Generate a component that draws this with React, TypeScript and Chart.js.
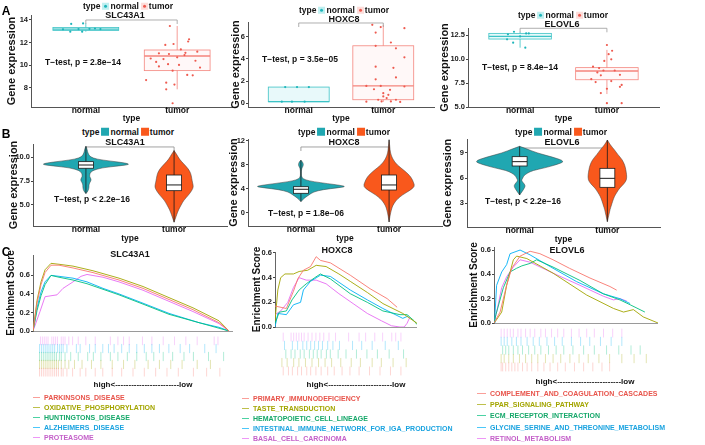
import React, { useEffect, useRef } from 'react';
import { Chart, registerables } from 'chart.js';

Chart.register(...registerables);

const FONT = '"Liberation Sans", Arial, Helvetica, sans-serif';
Chart.defaults.font.family = FONT;

// ================= categories & labels =================
const groups = ['normal', 'tumor'];
const genes = ['SLC43A1', 'HOXC8', 'ELOVL6'];
const pTestA = ['T\u2212test, p = 2.8e\u221214', 'T\u2212test, p = 3.5e\u221205', 'T\u2212test, p = 8.4e\u221214'];
const pTestB = ['T\u2212test, p < 2.2e\u221216', 'T\u2212test, p = 1.8e\u221206', 'T\u2212test, p < 2.2e\u221216'];

// ================= Panel A: boxplots [lowWhisker, Q1, median, Q3, highWhisker] =================
const boxA1 = [[12.97, 13.08, 13.2, 13.34, 13.7], [7.88, 9.53, 10.82, 11.35, 13.47]];
const boxA2 = [[0.12, 0.12, 0.12, 1.45, 1.45], [0.1, 0.3, 1.55, 5.2, 7.1]];
const boxA3 = [[11.18, 12.08, 12.35, 12.67, 12.84], [6.35, 7.84, 8.75, 9.1, 10.95]];

// jittered samples [offset from category, value]
const jitA1Normal = [[-0.16, 13.65], [-0.03, 13.7], [-0.17, 12.97], [-0.04, 12.97], [-0.08, 13.2], [0.04, 13.22], [0.1, 13.25], [0.16, 13.2], [-0.25, 13.18]];
const jitA1Tumor = [[-0.08, 13.47], [-0.13, 11.8], [-0.04, 11.88], [0.13, 12.3], [0.12, 12.1], [0.04, 11.4], [0.09, 11.1], [-0.2, 11.06], [-0.09, 11.0], [-0.29, 10.6], [-0.15, 10.55], [0.0, 10.7], [-0.23, 10.3], [-0.1, 10.1], [0.02, 10.03], [-0.2, 9.9], [-0.05, 9.53], [0.11, 9.15], [0.17, 9.12], [-0.34, 8.7], [-0.12, 8.47], [-0.03, 8.3], [-0.12, 7.88], [-0.05, 6.65], [0.08, 10.9], [0.2, 10.4], [0.22, 11.2], [0.25, 9.8]];
const jitA2Normal = [[-0.16, 1.45], [-0.02, 1.45], [0.12, 1.45], [-0.2, 0.12], [-0.08, 0.12], [0.07, 0.12]];
const jitA2Tumor = [[-0.13, 7.1], [-0.03, 6.9], [0.25, 6.8], [-0.09, 6.4], [0.09, 5.5], [-0.09, 5.2], [0.15, 4.97], [0.25, 4.15], [-0.09, 3.3], [0.12, 3.2], [0.15, 2.33], [-0.09, 2.15], [-0.2, 1.55], [-0.03, 1.55], [0.25, 1.5], [-0.11, 1.25], [0.08, 1.2], [0.0, 0.9], [-0.2, 0.12], [-0.06, 0.3], [-0.02, 0.15], [0.04, 0.45], [0.09, 0.15], [0.15, 0.3], [0.2, 0.1], [0.0, 0.6], [0.06, 0.75]];
const jitA3Normal = [[-0.07, 12.84], [-0.14, 12.57], [0.07, 12.67], [0.1, 12.67], [-0.15, 12.05], [-0.08, 11.7], [0.06, 11.18], [0.0, 12.35]];
const jitA3Tumor = [[0.0, 11.46], [0.06, 10.86], [0.02, 10.5], [0.05, 9.97], [-0.03, 9.8], [-0.16, 9.2], [-0.09, 9.05], [-0.04, 8.8], [0.09, 8.8], [-0.11, 8.6], [0.15, 8.35], [-0.07, 8.3], [-0.18, 7.9], [0.05, 7.7], [-0.13, 7.6], [0.17, 7.3], [0.15, 7.1], [0.0, 6.9], [-0.07, 6.45], [0.0, 5.4], [0.17, 5.4]];

const ticksA1 = [8, 10, 12, 14];
const ticksA2 = [0, 2, 4, 6];
const ticksA3 = [5, 7.5, 10, 12.5];

// ================= Panel B: violins [value, half width] =================
const vioB1Normal = [[11.15, 0], [10.9, 0.012], [10.6, 0.018], [10.3, 0.03], [10.05, 0.05], [9.8, 0.12], [9.6, 0.28], [9.4, 0.45], [9.25, 0.5], [9.1, 0.38], [8.9, 0.18], [8.6, 0.07], [8.3, 0.045], [8.0, 0.04], [7.7, 0.06], [7.5, 0.055], [7.2, 0.035], [6.9, 0.035], [6.6, 0.03], [6.35, 0.015], [6.2, 0]];
const vioB1Tumor = [[10.7, 0], [10.3, 0.03], [9.8, 0.06], [9.3, 0.11], [8.8, 0.16], [8.3, 0.19], [7.8, 0.2], [7.3, 0.21], [6.9, 0.22], [6.5, 0.2], [6.0, 0.16], [5.5, 0.11], [5.0, 0.08], [4.5, 0.05], [4.0, 0.03], [3.6, 0.015], [3.2, 0]];
const vioB2Normal = [[8.8, 0], [8.5, 0.02], [8.0, 0.03], [7.6, 0.015], [7.2, 0.006], [6.5, 0.005], [5.9, 0.008], [5.5, 0.05], [5.2, 0.15], [4.9, 0.3], [4.6, 0.45], [4.4, 0.51], [4.2, 0.42], [3.9, 0.25], [3.5, 0.14], [3.0, 0.09], [2.6, 0.05], [2.2, 0.02], [1.9, 0]];
const vioB2Tumor = [[12.2, 0], [11.0, 0.008], [10.0, 0.015], [9.0, 0.04], [8.0, 0.09], [7.0, 0.18], [6.0, 0.25], [5.0, 0.28], [4.4, 0.29], [3.8, 0.24], [3.0, 0.15], [2.4, 0.1], [1.9, 0.07], [1.2, 0.04], [0.5, 0.025], [-0.5, 0.01], [-1.5, 0]];
const vioB3Normal = [[9.8, 0], [9.5, 0.08], [9.0, 0.2], [8.5, 0.38], [8.0, 0.52], [7.6, 0.42], [7.2, 0.28], [6.9, 0.15], [6.6, 0.09], [6.3, 0.05], [6.0, 0.035], [5.7, 0.02], [5.45, 0.04], [5.1, 0.065], [4.8, 0.055], [4.4, 0.03], [3.96, 0]];
const vioB3Tumor = [[10.56, 0], [10.0, 0.03], [9.4, 0.08], [8.8, 0.12], [8.2, 0.17], [7.5, 0.2], [7.0, 0.21], [6.4, 0.22], [5.8, 0.22], [5.3, 0.19], [4.8, 0.14], [4.3, 0.11], [3.8, 0.08], [3.2, 0.06], [2.7, 0.045], [2.2, 0.03], [1.7, 0.02], [0.76, 0]];

const boxB1 = [[6.2, 8.85, 9.19, 9.54, 11.15], [3.2, 6.5, 7.1, 8.14, 10.7]];
const boxB2 = [[1.9, 3.28, 3.95, 4.38, 8.8], [-1.5, 3.83, 4.67, 6.33, 12.2]];
const boxB3 = [[3.96, 7.44, 7.96, 8.56, 9.8], [0.76, 4.88, 5.96, 7.16, 10.56]];

const ticksB1 = [5, 7.5, 10];
const ticksB2 = [0, 4, 8, 12];
const ticksB3 = [3, 6, 9];

// ================= Panel C: GSEA running enrichment score [rank %, ES] =================
const setsC1 = ['PARKINSONS_DISEASE', 'OXIDATIVE_PHOSPHORYLATION', 'HUNTINGTONS_DISEASE', 'ALZHEIMERS_DISEASE', 'PROTEASOME'];
const setsC2 = ['PRIMARY_IMMUNODEFICIENCY', 'TASTE_TRANSDUCTION', 'HEMATOPOIETIC_CELL_LINEAGE', 'INTESTINAL_IMMUNE_NETWORK_FOR_IGA_PRODUCTION', 'BASAL_CELL_CARCINOMA'];
const setsC3 = ['COMPLEMENT_AND_COAGULATION_CASCADES', 'PPAR_SIGNALING_PATHWAY', 'ECM_RECEPTOR_INTERACTION', 'GLYCINE_SERINE_AND_THREONINE_METABOLISM', 'RETINOL_METABOLISM'];

const esC1Parkinsons = [[0, 0], [2, 0.3], [4, 0.5], [6, 0.63], [9, 0.71], [13, 0.71], [20, 0.68], [30, 0.63], [43, 0.55], [55, 0.46], [68, 0.34], [80, 0.23], [93, 0.09], [98, 0]];
const esC1Oxidative = [[0, 0], [2, 0.33], [4, 0.53], [6, 0.66], [9, 0.73], [13, 0.72], [20, 0.7], [30, 0.65], [43, 0.57], [55, 0.48], [68, 0.36], [80, 0.25], [93, 0.11], [98, 0]];
const esC1Huntingtons = [[0, 0], [2, 0.22], [4, 0.38], [6, 0.5], [9, 0.6], [13, 0.58], [20, 0.55], [27, 0.51], [35, 0.45], [43, 0.39], [55, 0.29], [68, 0.18], [83, 0.09], [93, 0.03], [98, 0]];
const esC1Alzheimers = [[0, 0], [2, 0.25], [4, 0.42], [6, 0.53], [9, 0.6], [13, 0.59], [20, 0.57], [27, 0.53], [35, 0.46], [43, 0.4], [55, 0.3], [68, 0.19], [83, 0.09], [93, 0.04], [98, 0]];
const esC1Proteasome = [[0, 0], [3.5, 0.21], [6, 0.37], [9, 0.38], [12, 0.39], [15, 0.46], [20, 0.53], [24, 0.59], [27, 0.61], [35, 0.58], [43, 0.53], [55, 0.44], [68, 0.32], [80, 0.21], [93, 0.08], [98, 0]];

const esC2Primary = [[0, 0.17], [8, 0.15], [13, 0.29], [16, 0.39], [20, 0.46], [25, 0.49], [29, 0.57], [32, 0.54], [39, 0.52], [53, 0.42], [67, 0.31], [79, 0.23], [86, 0.16]];
const esC2Taste = [[0, 0.05], [2, 0.3], [4, 0.4], [7, 0.43], [13, 0.43], [17, 0.45], [23, 0.46], [29, 0.5], [36, 0.49], [45, 0.43], [53, 0.37], [65, 0.28], [76, 0.19], [90, 0.11], [100, 0.03]];
const esC2Hematopoietic = [[0, 0.03], [3, 0.12], [8, 0.13], [12, 0.22], [17, 0.3], [22, 0.35], [28, 0.4], [32, 0.43], [39, 0.39], [53, 0.27], [65, 0.2], [76, 0.13], [88, 0.1], [93, 0.1], [98, 0.05], [100, 0.02]];
const esC2Intestinal = [[0, 0.0], [2, 0.11], [8, 0.1], [13, 0.18], [18, 0.2], [20, 0.3], [25, 0.37], [32, 0.42], [39, 0.41], [53, 0.3], [65, 0.22], [76, 0.15], [90, 0.07], [94, 0.09]];
const esC2Basal = [[0, 0.1], [4, 0.13], [9, 0.2], [13, 0.32], [17, 0.4], [22, 0.38], [29, 0.38], [36, 0.35], [45, 0.27], [55, 0.19], [65, 0.11], [75, 0.05], [82, 0.01], [88, 0.0], [91, 0.0], [93, 0.03], [95, 0.08]];

const esC3Complement = [[0, 0], [3.7, 0.09], [7.7, 0.31], [10.8, 0.45], [15.9, 0.55], [22, 0.59], [28, 0.57], [36, 0.52], [46, 0.45], [58.5, 0.37], [70.7, 0.3], [74.8, 0.27]];
const esC3Ppar = [[0, 0], [1.2, 0.02], [4.7, 0.09], [7.7, 0.31], [11.8, 0.52], [13.8, 0.55], [20, 0.53], [36, 0.41], [56.5, 0.23], [72.8, 0.12], [79, 0.09], [85, 0.11], [91, 0.05], [100, 0]];
const esC3Ecm = [[0, 0], [1.2, 0.07], [5.7, 0.29], [9.8, 0.42], [13.8, 0.45], [17, 0.47], [22, 0.49], [26, 0.52], [36, 0.46], [52.4, 0.35], [66.7, 0.24], [76.8, 0.19], [83, 0.15], [92, 0.09]];
const esC3Glycine = [[0, 0], [0.6, 0.07], [1.6, 0.31], [4.7, 0.42], [7.7, 0.48], [9.8, 0.57], [15.9, 0.6], [22, 0.56], [36, 0.45], [50.4, 0.34], [66.7, 0.24], [76.8, 0.2], [83, 0.16]];
const esC3Retinol = [[0, 0], [1.6, 0.09], [4.7, 0.29], [7.7, 0.38], [11.8, 0.46], [15.9, 0.52], [22, 0.5], [36, 0.41], [52.4, 0.31], [66.7, 0.22], [72.8, 0.19], [76.8, 0.2], [81, 0.18]];

// gene hit positions (rank %) per gene set
const hitsC1 = [
  [0.5, 1.5, 2.5, 3.5, 4.5, 5.5, 6.5, 7.5, 8.5, 9.5, 10.5, 12, 13, 15, 18, 22, 25, 30, 34, 39, 44, 50, 56, 62, 68, 74, 82, 89, 96],
  [0.5, 1.5, 2.5, 3.5, 4.5, 5.5, 6.5, 7.5, 8.5, 9.5, 10.5, 12, 14, 16, 19, 23, 28, 33, 39, 45, 51, 58, 64, 70, 76, 84, 91],
  [0.5, 1.5, 2.5, 3.5, 4.5, 5.5, 6.5, 7.5, 8.5, 9.5, 11, 12, 14, 17, 21, 26, 29, 33, 38, 42, 47, 52, 57, 61, 66, 71, 77, 82, 90, 98],
  [0.5, 1.5, 2.5, 3.5, 4.5, 5.5, 6.5, 7.5, 8.5, 10, 11, 12, 13, 15, 20, 22, 27, 30, 34, 37, 40, 44, 48, 52, 56, 60, 64, 69, 75, 80, 88, 94],
  [1, 2, 3, 4, 5, 7, 8, 9, 10, 12, 13, 14, 16, 18, 21, 25, 30, 38, 42, 45, 48, 55, 60, 66, 72, 78, 84, 93, 95],
];
const hitsC2 = [
  [2, 6, 9, 13, 16, 20, 23, 27, 31, 36, 41, 47, 53, 60, 68, 76, 84, 92],
  [1, 5, 10, 14, 19, 24, 29, 34, 39, 46, 54, 61, 70, 77, 86, 96],
  [4, 8, 11, 15, 18, 22, 25, 28, 31, 35, 38, 44, 50, 58, 66, 74, 83, 94],
  [3, 9, 13, 17, 20, 23, 26, 29, 32, 36, 40, 45, 55, 62, 70, 80, 90],
  [2, 8, 10, 12, 14, 16, 18, 21, 24, 27, 30, 33, 37, 42, 52, 60, 65, 72, 78, 85, 88, 92],
];
const hitsC3 = [
  [1, 2, 4, 6, 8, 10, 12, 15, 18, 21, 25, 29, 33, 38, 43, 49, 55, 61, 67, 72],
  [1, 3, 6, 9, 13, 17, 21, 25, 30, 35, 40, 46, 52, 58, 65, 72, 80, 88, 96],
  [2, 4, 6, 9, 12, 15, 19, 23, 27, 32, 37, 42, 48, 55, 62, 70, 78, 86, 92],
  [1, 3, 5, 8, 11, 14, 18, 22, 26, 31, 36, 41, 47, 53, 59, 66, 73, 80],
  [1, 3, 5, 7, 9, 12, 14, 17, 20, 23, 27, 30, 34, 38, 42, 47, 52, 57, 62, 68, 74, 80],
];
const ticksES = [0, 0.2, 0.4, 0.6];

// ================= styles =================
const boxLine = ['#3CC3C6', '#F4857D'];
const boxFill = ['rgba(0,191,196,0.09)', 'rgba(248,118,109,0.05)'];
const ptColor = ['#1FB5BA', '#EE5B50'];
const vioFill = ['#20A7B1', '#F9581C'];
const gseaLine = ['#F8766D', '#A3A500', '#00BF7D', '#00B0F6', '#E76BF3'];
const gseaRug = ['rgba(248,118,109,0.3)', 'rgba(163,165,0,0.3)', 'rgba(0,191,125,0.3)', 'rgba(0,176,246,0.3)', 'rgba(231,107,243,0.3)'];
const gseaKey = ['rgba(248,118,109,0.7)', 'rgba(163,165,0,0.7)', 'rgba(0,191,125,0.7)', 'rgba(0,176,246,0.7)', 'rgba(231,107,243,0.7)'];
const gseaText = ['#E8544B', '#A3A500', '#16A86A', '#1AA3E0', '#C460C9'];

// ================= helpers =================
const base = (pad: any) => ({
  animation: false,
  responsive: false,
  devicePixelRatio: 1,
  events: [],
  layout: { padding: pad },
  plugins: { legend: { display: false }, tooltip: { enabled: false }, title: { display: false } },
});

function yScale(min: number, max: number, ticks: number[], fmt: (v: number) => string, yw: number, title: string, tSize: number, tPad: number, extra: any = {}) {
  return {
    type: 'linear',
    min,
    max,
    afterBuildTicks: (s: any) => { s.ticks = ticks.map((v) => ({ value: v })); },
    afterFit: (s: any) => { s.width = yw; },
    ticks: { callback: (v: any) => fmt(Number(v)), font: { size: 7.5, weight: 'bold' }, color: '#1a1a1a', padding: 1 },
    grid: { drawOnChartArea: false, tickLength: 2, color: '#444' },
    border: { color: '#555', width: 1 },
    title: { display: true, text: title, font: { size: tSize, weight: 'bold' }, color: '#111', padding: { top: tPad, bottom: 0 } },
    ...extra,
  };
}

function xCat(xh: number) {
  return {
    type: 'linear',
    min: 0.4,
    max: 2.6,
    afterBuildTicks: (s: any) => { s.ticks = groups.map((_, i) => ({ value: i + 1 })); },
    afterFit: (s: any) => { s.height = xh; },
    ticks: { callback: (v: any) => groups[Math.round(Number(v)) - 1], font: { size: 8.5, weight: 'bold' }, color: '#111', padding: -1, autoSkip: false, maxRotation: 0 },
    grid: { drawOnChartArea: false, drawTicks: false },
    border: { color: '#555', width: 1 },
    title: { display: true, text: 'type', font: { size: 8.5, weight: 'bold' }, color: '#111', padding: { top: 0, bottom: 0 } },
  };
}

function bracket(ctx: any, x: any, y: any, level: number, color: string) {
  const x1 = x.getPixelForValue(1), x2 = x.getPixelForValue(2), py = y.getPixelForValue(level);
  ctx.save();
  ctx.strokeStyle = color;
  ctx.lineWidth = 0.8;
  ctx.beginPath();
  ctx.moveTo(x1, py + 4);
  ctx.lineTo(x1, py);
  ctx.lineTo(x2, py);
  ctx.lineTo(x2, py + 4);
  ctx.stroke();
  ctx.restore();
}

const BOX_HALF = 0.36;
function boxPlugin(stats: number[][], level: number) {
  return {
    id: 'boxes',
    beforeDatasetsDraw(chart: any) {
      const { ctx, scales: { x, y } } = chart;
      stats.forEach((s, i) => {
        const cx = x.getPixelForValue(i + 1);
        const hw = x.getPixelForValue(i + 1 + BOX_HALF) - cx;
        const [lo, q1, med, q3, hi] = s.map((v) => y.getPixelForValue(v));
        ctx.save();
        ctx.fillStyle = boxFill[i];
        ctx.strokeStyle = boxLine[i];
        ctx.lineWidth = 0.8;
        ctx.fillRect(cx - hw, q3, 2 * hw, q1 - q3);
        ctx.strokeRect(cx - hw, q3, 2 * hw, q1 - q3);
        ctx.beginPath();
        ctx.moveTo(cx, q3); ctx.lineTo(cx, hi);
        ctx.moveTo(cx, q1); ctx.lineTo(cx, lo);
        ctx.stroke();
        ctx.lineWidth = 1.3;
        ctx.beginPath();
        ctx.moveTo(cx - hw, med); ctx.lineTo(cx + hw, med);
        ctx.stroke();
        ctx.restore();
      });
      bracket(ctx, x, y, level, '#9a9a9a');
    },
  };
}

function smooth(ctx: any, pts: number[][], first: boolean) {
  if (first) ctx.moveTo(pts[0][0], pts[0][1]); else ctx.lineTo(pts[0][0], pts[0][1]);
  for (let i = 1; i < pts.length - 1; i++) {
    const mx = (pts[i][0] + pts[i + 1][0]) / 2, my = (pts[i][1] + pts[i + 1][1]) / 2;
    ctx.quadraticCurveTo(pts[i][0], pts[i][1], mx, my);
  }
  const l = pts[pts.length - 1];
  ctx.lineTo(l[0], l[1]);
}

const VBOX_HALF = 0.085;
function violinPlugin(shapes: number[][][], stats: number[][], level: number) {
  return {
    id: 'violins',
    beforeDatasetsDraw(chart: any) {
      const { ctx, scales: { x, y } } = chart;
      bracket(ctx, x, y, level, '#8a8a8a');
      shapes.forEach((shape, i) => {
        const c = i + 1;
        const right = shape.map(([v, w]) => [x.getPixelForValue(c + w), y.getPixelForValue(v)]);
        const left = shape.map(([v, w]) => [x.getPixelForValue(c - w), y.getPixelForValue(v)]).reverse();
        ctx.save();
        ctx.beginPath();
        smooth(ctx, right, true);
        smooth(ctx, left, false);
        ctx.closePath();
        ctx.fillStyle = vioFill[i];
        ctx.fill();
        ctx.strokeStyle = '#3a3a3a';
        ctx.lineWidth = 0.5;
        ctx.stroke();
        const s = stats[i];
        const cx = x.getPixelForValue(c);
        const hw = x.getPixelForValue(c + VBOX_HALF) - cx;
        const [lo, q1, med, q3, hi] = s.map((v) => y.getPixelForValue(v));
        ctx.strokeStyle = '#1a1a1a';
        ctx.lineWidth = 0.8;
        ctx.beginPath();
        ctx.moveTo(cx, hi); ctx.lineTo(cx, lo);
        ctx.stroke();
        ctx.fillStyle = '#ffffff';
        ctx.fillRect(cx - hw, q3, 2 * hw, q1 - q3);
        ctx.strokeRect(cx - hw, q3, 2 * hw, q1 - q3);
        ctx.lineWidth = 1;
        ctx.beginPath();
        ctx.moveTo(cx - hw, med); ctx.lineTo(cx + hw, med);
        ctx.stroke();
        ctx.restore();
      });
    },
  };
}

const intFmt = (v: number) => String(v);
const oneFmt = (v: number) => v.toFixed(1);

function boxChart(stats: number[][], jit: number[][][], min: number, max: number, ticks: number[], fmt: any, yw: number, tPad: number, level: number) {
  return {
    type: 'scatter',
    data: {
      datasets: jit.map((pts, i) => ({
        data: pts.map(([dx, v]) => ({ x: i + 1 + dx, y: v })),
        pointRadius: 1.1,
        pointBackgroundColor: ptColor[i],
        pointBorderWidth: 0,
        showLine: false,
      })),
    },
    options: { ...base({ top: 6, right: 3, left: 0, bottom: 0 }), scales: { x: xCat(17), y: yScale(min, max, ticks, fmt, yw, 'Gene expression', 11, tPad) } },
    plugins: [boxPlugin(stats, level)],
  };
}

function violinChart(shapes: number[][][], stats: number[][], min: number, max: number, ticks: number[], fmt: any, yw: number, tPad: number, level: number) {
  return {
    type: 'scatter',
    data: { datasets: [] },
    options: { ...base({ top: 6, right: 3, left: 0, bottom: 0 }), scales: { x: xCat(18), y: yScale(min, max, ticks, fmt, yw, 'Gene expression', 11, tPad) } },
    plugins: [violinPlugin(shapes, stats, level)],
  };
}

function esChart(series: number[][][], max: number, yw: number, tPad: number) {
  return {
    type: 'scatter',
    data: {
      datasets: series.map((pts, i) => ({
        data: pts.map(([r, v]) => ({ x: r, y: v })),
        showLine: true,
        borderColor: gseaLine[i],
        borderWidth: 0.9,
        pointRadius: 0,
        tension: 0,
      })),
    },
    options: {
      ...base({ top: 6, right: 3, left: 0, bottom: 6 }),
      scales: {
        x: { type: 'linear', min: 0, max: 100, display: false },
        y: yScale(0, max, ticksES, oneFmt, yw, 'Enrichment Score', 10, tPad, {
          grid: { drawOnChartArea: true, tickLength: 2, tickColor: '#444', color: (c: any) => (c.tick && c.tick.value === 0 ? '#9a9a9a' : 'rgba(0,0,0,0)') },
          border: { color: '#666', width: 1 },
        }),
      },
    },
  };
}

function rugChart(rows: number[][]) {
  return {
    type: 'scatter',
    data: {
      datasets: rows.map((hits, i) => ({
        data: hits.map((h) => ({ x: h, y: i + 0.5 })),
        showLine: false,
        pointStyle: 'line',
        pointRotation: 90,
        pointRadius: 4.6,
        pointBorderWidth: 1,
        pointBorderColor: gseaRug[i],
        pointBackgroundColor: gseaRug[i],
      })),
    },
    options: {
      ...base(0),
      scales: { x: { type: 'linear', min: 0, max: 100, display: false }, y: { type: 'linear', min: 0, max: 5, display: false } },
    },
  };
}

// ================= components =================
function ChartBox({ l, t, w, h, make }: { l: number; t: number; w: number; h: number; make: () => any }) {
  const ref = useRef<HTMLCanvasElement>(null);
  useEffect(() => {
    const c = new Chart(ref.current as HTMLCanvasElement, make());
    return () => c.destroy();
  }, []);
  return <canvas ref={ref} width={w} height={h} style={{ position: 'absolute', left: l, top: t, width: w, height: h }} />;
}

function Txt({ x, y, size = 8.5, color = '#111', anchor = 'middle', children }: any) {
  return (
    <div
      style={{
        position: 'absolute', left: x, top: y,
        transform: anchor === 'middle' ? 'translate(-50%,-50%)' : 'translate(0,-50%)',
        fontSize: size, fontWeight: 700, color, whiteSpace: 'nowrap', lineHeight: 1, fontFamily: FONT,
      }}
    >
      {children}
    </div>
  );
}

function Key({ i, solid }: { i: number; solid: boolean }) {
  if (solid) return <span style={{ display: 'inline-block', width: 8, height: 8, background: vioFill[i], margin: '0 1px 0 2px' }} />;
  return (
    <span style={{ display: 'inline-block', position: 'relative', width: 7, height: 7, background: i === 0 ? 'rgba(0,191,196,0.25)' : 'rgba(248,118,109,0.25)', margin: '0 1px 0 2px' }}>
      <span style={{ position: 'absolute', left: 2, top: 2, width: 3, height: 3, borderRadius: 2, background: ptColor[i] }} />
    </span>
  );
}

function TypeLegend({ x, y, solid }: { x: number; y: number; solid: boolean }) {
  return (
    <div style={{ position: 'absolute', left: x, top: y, transform: 'translate(-50%,-50%)', display: 'flex', alignItems: 'center', fontSize: 8.5, fontWeight: 700, color: '#111', whiteSpace: 'nowrap', lineHeight: 1, fontFamily: FONT }}>
      <span>type</span>
      <Key i={0} solid={solid} />
      <span>{groups[0]}</span>
      <Key i={1} solid={solid} />
      <span>{groups[1]}</span>
    </div>
  );
}

function SetLegend({ names, lineX, textX, ys }: { names: string[]; lineX: number; textX: number; ys: number[] }) {
  return (
    <>
      {names.map((n, i) => (
        <React.Fragment key={n}>
          <div style={{ position: 'absolute', left: lineX, top: ys[i], width: textX - lineX - 4, height: 1, background: gseaKey[i] }} />
          <Txt x={textX} y={ys[i]} size={7} color={gseaText[i]} anchor="start">{n}</Txt>
        </React.Fragment>
      ))}
    </>
  );
}

const highLow = 'high<' + '-'.repeat(24) + 'low';

export default function App() {
  return (
    <div style={{ position: 'fixed', left: 0, top: 0, width: 705, height: 445, background: '#fff', overflow: 'hidden', fontFamily: FONT }}>
      {/* Panel A */}
      <ChartBox l={3} t={9} w={233} h={115} make={() => boxChart(boxA1, [jitA1Normal, jitA1Tumor], 6.32, 14.44, ticksA1, intFmt, 28, 2.4, 14.0)} />
      <ChartBox l={229} t={16} w={209} h={108} make={() => boxChart(boxA2, [jitA2Normal, jitA2Tumor], -0.36, 7.36, ticksA2, intFmt, 19, 0.4, 7.27)} />
      <ChartBox l={438} t={22} w={225} h={102} make={() => boxChart(boxA3, [jitA3Normal, jitA3Tumor], 5.0, 13.23, ticksA3, oneFmt, 30, 0.4, 13.2)} />

      {/* Panel B */}
      <ChartBox l={5} t={138} w={225} h={106} make={() => violinChart([vioB1Normal, vioB1Tumor], boxB1, 2.8, 11.39, ticksB1, oneFmt, 28, 1.9, 11.08)} />
      <ChartBox l={227} t={133} w={218} h={111} make={() => violinChart([vioB2Normal, vioB2Tumor], boxB2, -2.17, 12.33, ticksB2, intFmt, 21, 0.4, 11.0)} />
      <ChartBox l={441} t={133} w={222} h={112} make={() => violinChart([vioB3Normal, vioB3Tumor], boxB3, 0.12, 10.68, ticksB3, intFmt, 26, 0.4, 9.6)} />

      {/* Panel C */}
      <ChartBox l={3} t={249} w={233} h={88} make={() => esChart([esC1Parkinsons, esC1Oxidative, esC1Huntingtons, esC1Alzheimers, esC1Proteasome], 0.82, 30, 2.5)} />
      <ChartBox l={33} t={331} w={200} h={51} make={() => rugChart(hitsC1)} />
      <ChartBox l={249} t={246} w={171} h={87} make={() => esChart([esC2Primary, esC2Taste, esC2Hematopoietic, esC2Intestinal, esC2Basal], 0.608, 26, 2)} />
      <ChartBox l={275} t={327} w={142} h={54} make={() => rugChart(hitsC2)} />
      <ChartBox l={466} t={241} w={195} h={88} make={() => esChart([esC3Complement, esC3Ppar, esC3Ecm, esC3Glycine, esC3Retinol], 0.625, 28, 2)} />
      <ChartBox l={494} t={323} w={164} h={54} make={() => rugChart(hitsC3)} />

      {/* panel letters */}
      <Txt x={6} y={11} size={12} color="#000">A</Txt>
      <Txt x={6} y={134} size={12} color="#000">B</Txt>
      <Txt x={6} y={252} size={12} color="#000">C</Txt>

      {/* A legends / titles / tests */}
      <TypeLegend x={128} y={6} solid={false} />
      <TypeLegend x={344} y={10} solid={false} />
      <TypeLegend x={563} y={15} solid={false} />
      <Txt x={125} y={15} size={9}>{genes[0]}</Txt>
      <Txt x={344} y={19} size={9}>{genes[1]}</Txt>
      <Txt x={562} y={24} size={9}>{genes[2]}</Txt>
      <Txt x={83} y={62}>{pTestA[0]}</Txt>
      <Txt x={300} y={59}>{pTestA[1]}</Txt>
      <Txt x={520} y={67}>{pTestA[2]}</Txt>

      {/* B legends / titles / tests */}
      <TypeLegend x={128} y={132} solid />
      <TypeLegend x={344} y={132} solid />
      <TypeLegend x={561} y={132} solid />
      <Txt x={125} y={142} size={9}>{genes[0]}</Txt>
      <Txt x={344} y={142} size={9}>{genes[1]}</Txt>
      <Txt x={562} y={142} size={9}>{genes[2]}</Txt>
      <Txt x={92} y={199}>{pTestB[0]}</Txt>
      <Txt x={306} y={213}>{pTestB[1]}</Txt>
      <Txt x={523} y={201}>{pTestB[2]}</Txt>

      {/* C titles / axis text / legends */}
      <Txt x={130} y={254} size={9}>{genes[0]}</Txt>
      <Txt x={337} y={250} size={9}>{genes[1]}</Txt>
      <Txt x={567} y={250} size={9}>{genes[2]}</Txt>
      <Txt x={143} y={385} size={8}>{highLow}</Txt>
      <Txt x={356} y={385} size={8}>{highLow}</Txt>
      <Txt x={585} y={382} size={8}>{highLow}</Txt>
      <SetLegend names={setsC1} lineX={33} textX={44} ys={[397, 407, 417, 427, 437]} />
      <SetLegend names={setsC2} lineX={242} textX={253} ys={[398, 408, 418, 428, 438]} />
      <SetLegend names={setsC3} lineX={477} textX={490} ys={[393, 404, 415, 427, 438]} />
    </div>
  );
}
